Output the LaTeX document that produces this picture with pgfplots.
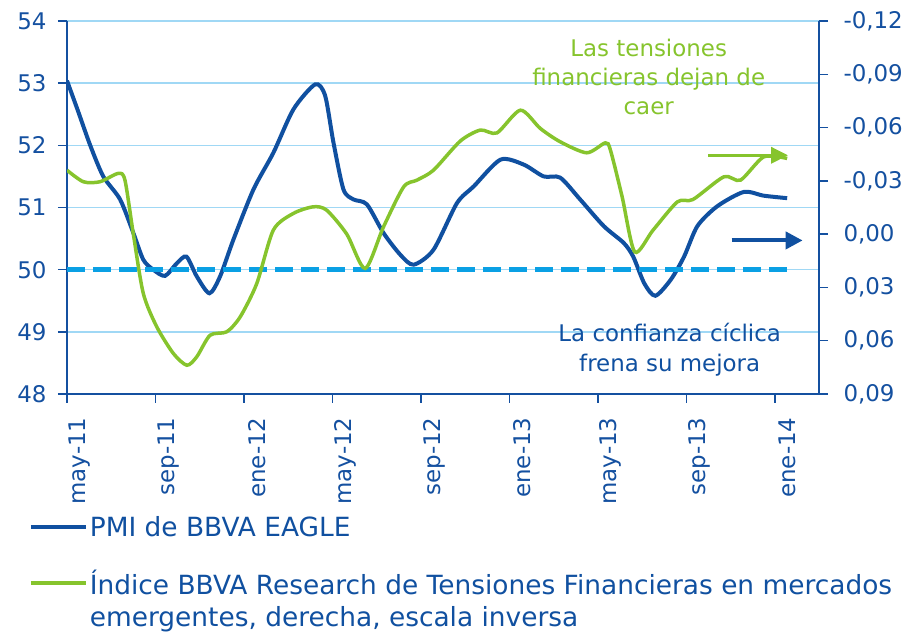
\documentclass[border=0pt]{standalone}
\usepackage{pgfplots}
\pgfplotsset{compat=1.18}
\usepackage{fontspec}
\setmainfont{DejaVu Sans}
\usetikzlibrary{arrows.meta}
\definecolor{pmiblue}{RGB}{16,80,160}
\definecolor{axisblue}{RGB}{20,80,160}
\definecolor{tgreen}{RGB}{134,196,45}
\definecolor{dashblue}{RGB}{10,160,228}
\definecolor{gridblue}{RGB}{160,216,245}
\begin{document}
\begin{tikzpicture}
\useasboundingbox (0,0) rectangle (910bp,634bp);
\pgfplotsset{
  every axis/.append style={
    at={(67bp,240bp)}, anchor=south west,
    scale only axis, width=752bp, height=373bp,
    xmin=0, xmax=34,
    tick align=outside,
    axis line style={-, color=axisblue, line width=2bp},
    tick style={color=axisblue, line width=1.5bp},
    major tick length=9bp,
    tick label style={font=\fontsize{23}{27}\selectfont, color=axisblue},
    /pgf/number format/assume math mode=true,
  }
}
\begin{axis}[
  axis x line*=bottom, axis y line*=left,
  ymin=48, ymax=54, ytick={48,49,50,51,52,53,54},
  ymajorgrids, grid style={draw=gridblue, line width=1.6bp},
  xtick={0,4,8,12,16,20,24,28,32},
  xticklabels={may-11,sep-11,ene-12,may-12,sep-12,ene-13,may-13,sep-13,ene-14},
  xticklabel style={rotate=90, anchor=east, xshift=-11bp, yshift=-13bp},
  yticklabel style={xshift=-8bp},
]
\addplot[pmiblue, line width=4bp, smooth, tension=0.45] coordinates {
(0,53.04) (0.5,52.55) (1.05,52.0) (1.64,51.5) (2.4,51.13) (3.0,50.59) (3.45,50.16) (3.9,50.0) (4.43,49.9) (4.96,50.1) (5.4,50.21) (5.87,49.89) (6.44,49.62) (6.92,49.89) (7.52,50.48) (8.43,51.29) (9.33,51.88) (10.24,52.58) (11.22,52.98) (11.67,52.8) (12.05,52.04) (12.5,51.29) (12.95,51.13) (13.56,51.05) (14.31,50.59) (15.07,50.24) (15.67,50.08) (16.57,50.32) (17.63,51.07) (18.39,51.34) (19.6,51.77) (20.65,51.69) (21.55,51.5) (22.3,51.48) (23.2,51.13) (24.27,50.7) (25.17,50.43) (25.6,50.21) (26.1,49.78) (26.6,49.58) (27.3,49.84) (27.9,50.21) (28.5,50.7) (29.4,51.02) (30.6,51.25) (31.5,51.19) (32.56,51.15)
};
\addplot[dashblue, line width=4.5bp, dash pattern=on 18bp off 8bp] coordinates {(0,50) (32.56,50)};
\draw[tgreen, line width=3.5bp, -{Triangle[length=17bp,width=16bp]}] (axis cs:29.0,51.84) -- (axis cs:32.6,51.84);
\draw[pmiblue, line width=4bp, -{Triangle[length=17bp,width=17bp]}] (axis cs:30.05,50.47) -- (axis cs:33.26,50.47);
\node[align=center, text=tgreen, font=\fontsize{23}{29}\selectfont] at (axis cs:26.3,53.1) {Las tensiones\\financieras dejan de\\caer};
\node[align=center, text=pmiblue, font=\fontsize{23}{30}\selectfont] at (axis cs:27.25,48.71) {La confianza cíclica\\frena su mejora};
\end{axis}
\begin{axis}[
  axis x line=none, axis y line*=right,
  y dir=reverse,
  ymin=-0.12, ymax=0.09,
  ytick={-0.12,-0.09,-0.06,-0.03,0,0.03,0.06,0.09},
  yticklabels={{-0,12},{-0,09},{-0,06},{-0,03},{0,00},{0,03},{0,06},{0,09}},
  yticklabel style={xshift=12bp},
  legend style={at={(axis description cs:-0.051,-0.322)}, anchor=north west, draw=none, fill=none,
    font=\fontsize{26.5}{32}\selectfont, text=pmiblue, row sep=28bp, inner sep=0pt,
    cells={anchor=west}},
  legend cell align=left,
  legend image code/.code={\draw[#1] (0bp,0bp) -- (55bp,0bp);},
]
\addlegendimage{pmiblue, line width=4bp}
\addlegendentry{PMI de BBVA EAGLE}
\addplot[tgreen, line width=3.5bp, smooth, tension=0.45] coordinates {
(0,-0.036) (0.74,-0.0295) (1.49,-0.0295) (2.32,-0.0342) (2.62,-0.0304) (3.0,0.0) (3.45,0.0334) (4.06,0.0522) (4.81,0.0672) (5.42,0.0738) (5.87,0.069) (6.47,0.0569) (7.22,0.055) (7.83,0.0466) (8.58,0.0278) (9.33,-0.0023) (10.24,-0.0117) (11.14,-0.0154) (11.74,-0.0135) (12.65,0.0) (13.48,0.0193) (14.31,-0.0041) (15.22,-0.0266) (15.82,-0.0304) (16.57,-0.036) (17.78,-0.0524) (18.69,-0.0586) (19.44,-0.057) (20.5,-0.0698) (21.4,-0.0595) (22.3,-0.052) (23.5,-0.0458) (24.34,-0.0514) (24.57,-0.0473) (25.1,-0.021) (25.67,0.01) (26.5,-0.0023) (27.6,-0.0182) (28.3,-0.0195) (29.7,-0.0323) (30.45,-0.0304) (31.5,-0.0435) (32.56,-0.0426)
};
\addlegendentry{\parbox[t]{830bp}{Índice BBVA Research de Tensiones Financieras en mercados\\emergentes, derecha, escala inversa}}
\end{axis}
\end{tikzpicture}
\end{document}
